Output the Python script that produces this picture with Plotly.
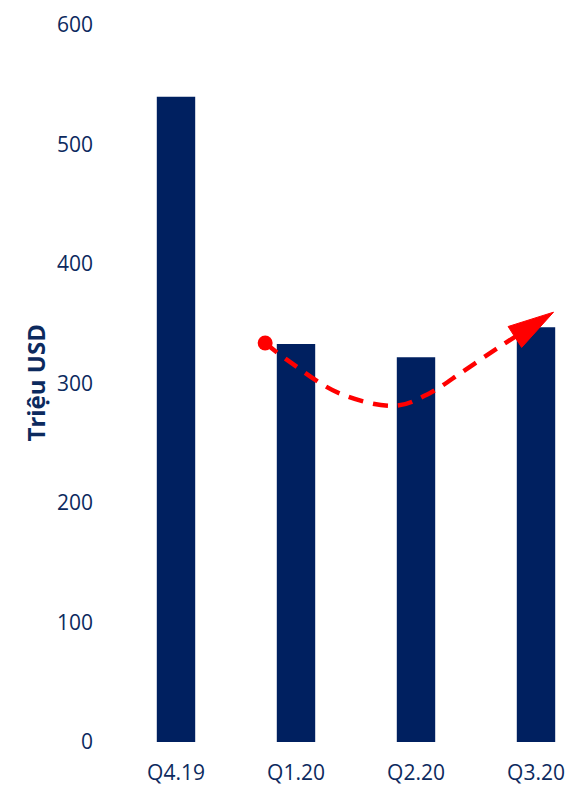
import math
import plotly.graph_objects as go

categories = ["Q4.19", "Q1.20", "Q2.20", "Q3.20"]
values = [540, 333, 322, 347]
y_ticks = [0, 100, 200, 300, 400, 500, 600]

# trend arrow path (category index, value); last point is the arrow tip
trend_x = [0.743, 0.946, 1.363, 1.835, 2.11, 2.39, 2.67, 3.146]
trend_y = [333.9, 318.3, 291.7, 281.4, 291.7, 310.0, 329.0, 359.7]

navy = "#002060"
text_col = "#0C2A5E"
font_family = "Open Sans"

# axis geometry (pixels per data unit) used to shape the arrow head
PX_X = 120.0
PX_Y = 1.2
head_len = 46.0
head_half = 12.5

tx, ty = trend_x[-1], trend_y[-1]
px_prev, py_prev = trend_x[-2], trend_y[-2]
dxp = (tx - px_prev) * PX_X
dyp = (ty - py_prev) * PX_Y
norm = math.hypot(dxp, dyp)
ux, uy = dxp / norm, dyp / norm
bx, by = -head_len * ux, -head_len * uy
nx, ny = -uy * head_half, ux * head_half
head_x = [tx, tx + (bx + nx) / PX_X, tx + (bx - nx) / PX_X, tx]
head_y = [ty, ty + (by + ny) / PX_Y, ty + (by - ny) / PX_Y, ty]
base_x = tx + (bx * 0.8) / PX_X
base_y = ty + (by * 0.8) / PX_Y

fig = go.Figure()
fig.add_trace(go.Bar(
    x=list(range(len(categories))), y=values,
    marker=dict(color=navy, line=dict(width=0)),
    width=0.32,
    hoverinfo="skip",
))
fig.add_trace(go.Scatter(
    x=trend_x[:-1] + [base_x], y=trend_y[:-1] + [base_y], mode="lines",
    line=dict(color="#FF0000", width=4.5, dash="15px,10px", shape="spline", smoothing=1.0),
    hoverinfo="skip",
))
fig.add_trace(go.Scatter(
    x=[trend_x[0]], y=[trend_y[0]], mode="markers",
    marker=dict(color="#FF0000", size=15, symbol="circle"),
    hoverinfo="skip",
))
fig.add_trace(go.Scatter(
    x=head_x, y=head_y, mode="lines", fill="toself",
    fillcolor="#FF0000", line=dict(color="#FF0000", width=1),
    hoverinfo="skip",
))

fig.add_annotation(
    text="<b>Triệu USD</b>", textangle=-90,
    xref="paper", yref="paper", x=(35 - 116) / 454, y=0.5,
    xanchor="center", yanchor="middle", showarrow=False,
    font=dict(family=font_family, size=24, color=text_col),
)

fig.update_layout(
    width=570, height=786,
    margin=dict(l=116, r=0, t=25, b=41),
    paper_bgcolor="white", plot_bgcolor="white",
    showlegend=False,
    font=dict(family=font_family, size=21, color=text_col),
    xaxis=dict(
        range=[-0.5, -0.5 + 454 / 120],
        tickmode="array", tickvals=list(range(len(categories))), ticktext=categories,
        showgrid=False, zeroline=False, showline=False, ticks="",
        ticklabelstandoff=16,
        tickfont=dict(family=font_family, size=21, color=text_col),
    ),
    yaxis=dict(
        range=[0, 600],
        tickmode="array", tickvals=y_ticks,
        showgrid=False, zeroline=False, showline=False, ticks="",
        ticklabelstandoff=22,
        tickfont=dict(family=font_family, size=21, color=text_col),
    ),
)

fig.write_html("out.html")
